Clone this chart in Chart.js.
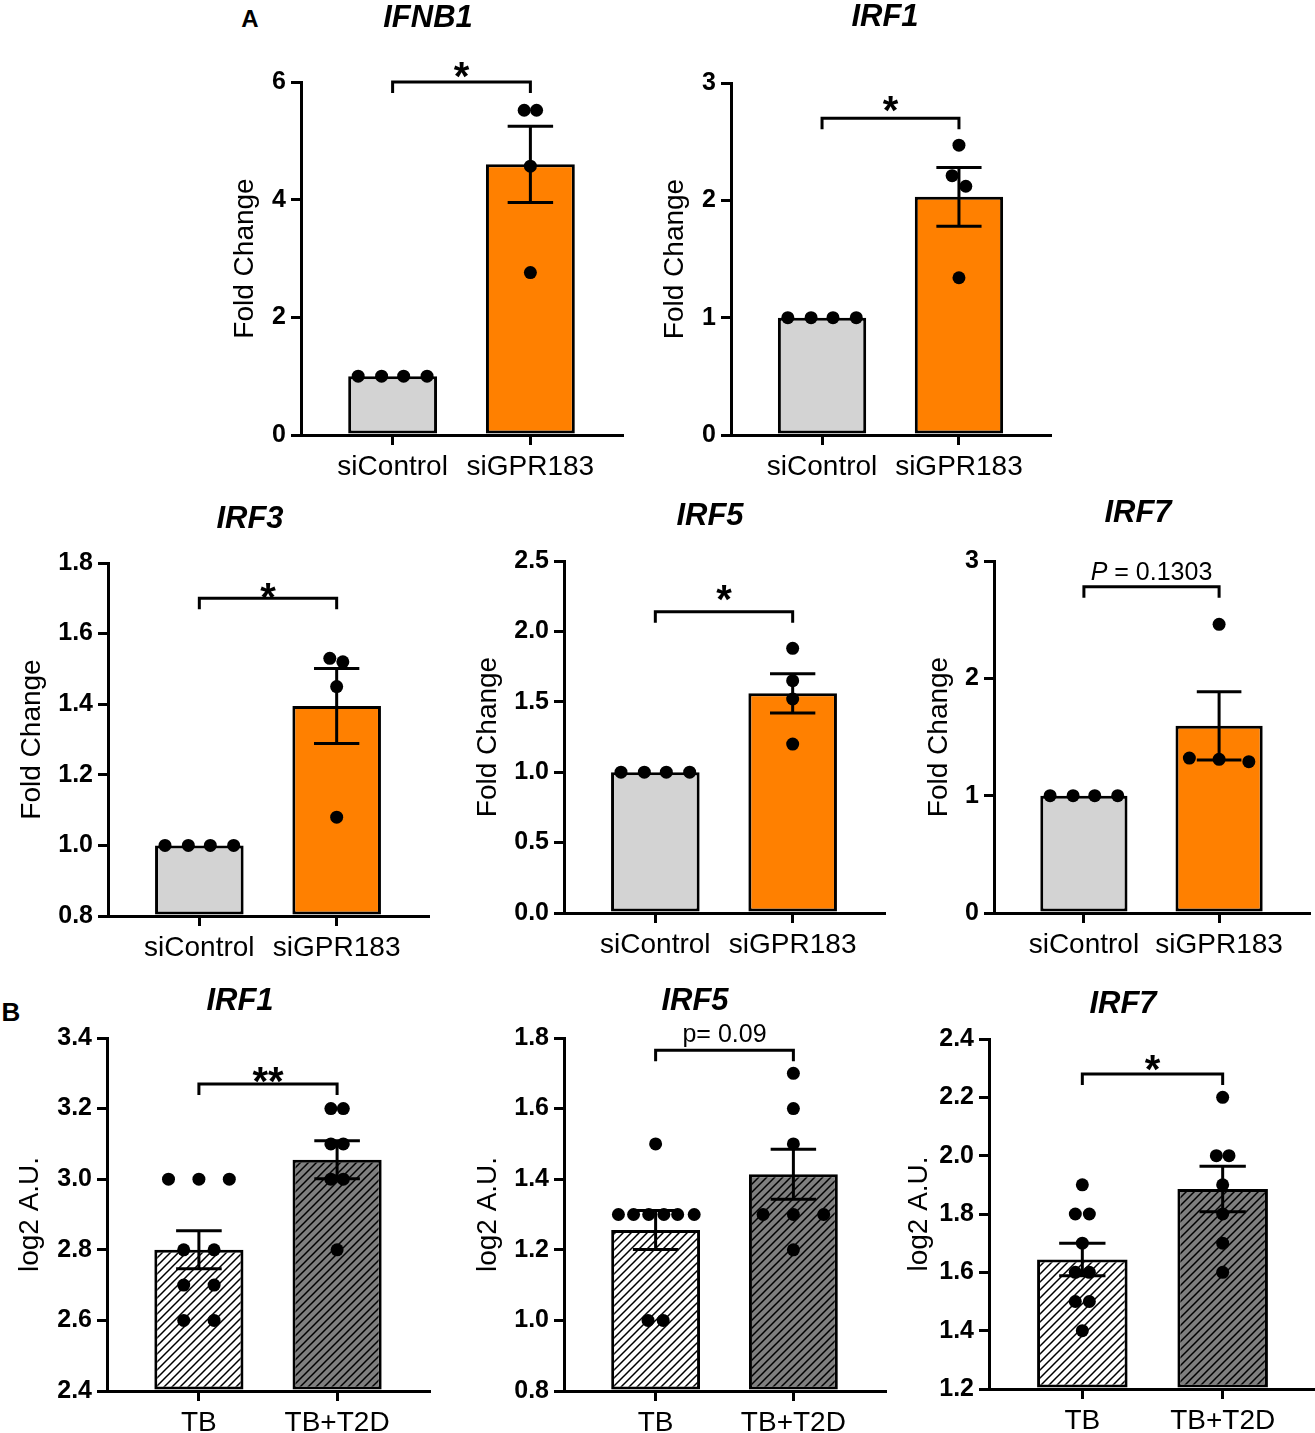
<!DOCTYPE html>
<html>
<head>
<meta charset="utf-8">
<script src="https://cdn.jsdelivr.net/npm/chart.js@4.4.1/dist/chart.umd.min.js"></script>
<style>
  html, body { margin: 0; padding: 0; overflow: hidden; background: #fff; }
  body { width: 1315px; height: 1433px; position: relative; font-family: "Liberation Sans", Arial, sans-serif; }
  canvas { position: absolute; }
  .title { position: absolute; transform: translate(-50%, -50%); font-weight: bold; font-style: italic; font-size: 31px; white-space: nowrap; color: #000; }
  .letter { position: absolute; transform: translate(-50%, -50%); font-weight: bold; color: #000; }
</style>
</head>
<body>
<script>
const FONT = '"Liberation Sans", Arial, sans-serif';

const groupsA = ['siControl', 'siGPR183'];
const groupsB = ['TB', 'TB+T2D'];

// spread of the four control dots along x (category units)
const controlVals = [1, 1, 1, 1];
const controlJitter = [-0.25, -0.08, 0.08, 0.25];

// A - IFNB1
const ifnb1Si = [5.52, 5.52, 4.57, 2.76];
const ifnb1SiJitter = [-0.045, 0.045, 0, 0];
const ifnb1Mean = [1, 4.6];
const ifnb1Sem = [0, 0.65];

// A - IRF1
const irf1Si = [2.47, 2.21, 2.12, 1.34];
const irf1SiJitter = [0, -0.05, 0.05, 0];
const irf1Mean = [1, 2.03];
const irf1Sem = [0, 0.25];

// A - IRF3
const irf3Si = [1.53, 1.52, 1.45, 1.08];
const irf3SiJitter = [-0.05, 0.045, 0, 0];
const irf3Mean = [1, 1.395];
const irf3Sem = [0, 0.106];

// A - IRF5
const irf5Si = [1.88, 1.65, 1.52, 1.20];
const irf5SiJitter = [0, 0, 0, 0];
const irf5Mean = [1, 1.56];
const irf5Sem = [0, 0.14];

// A - IRF7
const irf7Si = [2.46, 1.32, 1.31, 1.29];
const irf7SiJitter = [0, -0.22, 0, 0.22];
const irf7Mean = [1, 1.595];
const irf7Sem = [0, 0.29];

// B - IRF1
const bIrf1Tb = [3.0, 3.0, 3.0, 2.8, 2.8, 2.7, 2.7, 2.6, 2.6];
const bIrf1TbJitter = [-0.22, 0, 0.22, -0.11, 0.11, -0.11, 0.11, -0.11, 0.11];
const bIrf1T2d = [3.2, 3.2, 3.1, 3.1, 3.0, 3.0, 2.8];
const bIrf1T2dJitter = [-0.045, 0.045, -0.045, 0.045, -0.045, 0.045, 0];
const bIrf1Mean = [2.80, 3.055];
const bIrf1Sem = [0.054, 0.054];

// B - IRF5
const bIrf5Tb = [1.5, 1.3, 1.3, 1.3, 1.3, 1.3, 1.3, 1.0, 1.0];
const bIrf5TbJitter = [0, -0.27, -0.16, -0.05, 0.06, 0.16, 0.28, -0.055, 0.055];
const bIrf5T2d = [1.7, 1.6, 1.5, 1.3, 1.3, 1.3, 1.2];
const bIrf5T2dJitter = [0, 0, 0, -0.22, 0, 0.22, 0];
const bIrf5Mean = [1.256, 1.414];
const bIrf5Sem = [0.055, 0.071];

// B - IRF7
const bIrf7Tb = [1.9, 1.8, 1.8, 1.7, 1.6, 1.6, 1.5, 1.5, 1.4];
const bIrf7TbJitter = [0, -0.05, 0.05, 0, -0.05, 0.05, -0.05, 0.05, 0];
const bIrf7T2d = [2.2, 2.0, 2.0, 1.9, 1.8, 1.7, 1.6];
const bIrf7T2dJitter = [0, -0.045, 0.045, 0, 0, 0, 0];
const bIrf7Mean = [1.644, 1.886];
const bIrf7Sem = [0.056, 0.078];

const fillA = ['#d3d3d3', '#ff8000'];
const fillB = ['hatch:#ffffff', 'hatch:#7f7f7f'];

// area = chart area [left, top, right, bottom] in page px
const panels = [
  { title: 'IFNB1', tx: 428, ty: 17, groups: groupsA, g0: controlVals, j0: controlJitter, g1: ifnb1Si, j1: ifnb1SiJitter,
    mean: ifnb1Mean, sem: ifnb1Sem, yMin: 0, yMax: 6, step: 2, dec: 0, yTitle: 'Fold Change',
    sig: [['*', '']], sigY: 6.0, sigGap: 15, area: [301, 82, 622, 435], titleGap: 56, fill: fillA },
  { title: 'IRF1', tx: 885, ty: 16, groups: groupsA, g0: controlVals, j0: controlJitter, g1: irf1Si, j1: irf1SiJitter,
    mean: irf1Mean, sem: irf1Sem, yMin: 0, yMax: 3, step: 1, dec: 0, yTitle: 'Fold Change',
    sig: [['*', '']], sigY: 2.70, sigGap: 18, area: [731, 83, 1050, 435], titleGap: 56, fill: fillA },
  { title: 'IRF3', tx: 250, ty: 518, groups: groupsA, g0: controlVals, j0: controlJitter, g1: irf3Si, j1: irf3SiJitter,
    mean: irf3Mean, sem: irf3Sem, yMin: 0.8, yMax: 1.8, step: 0.2, dec: 1, yTitle: 'Fold Change',
    sig: [['*', '']], sigY: 1.70, sigGap: 11, area: [108, 563, 428, 916], titleGap: 76, fill: fillA },
  { title: 'IRF5', tx: 710, ty: 515, groups: groupsA, g0: controlVals, j0: controlJitter, g1: irf5Si, j1: irf5SiJitter,
    mean: irf5Mean, sem: irf5Sem, yMin: 0, yMax: 2.5, step: 0.5, dec: 1, yTitle: 'Fold Change',
    sig: [['*', '']], sigY: 2.14, sigGap: 22, area: [564, 561, 884, 913], titleGap: 76, fill: fillA },
  { title: 'IRF7', tx: 1138, ty: 512, groups: groupsA, g0: controlVals, j0: controlJitter, g1: irf7Si, j1: irf7SiJitter,
    mean: irf7Mean, sem: irf7Sem, yMin: 0, yMax: 3, step: 1, dec: 0, yTitle: 'Fold Change',
    sig: [['P', 'italic'], [' = 0.1303', '']], sigY: 2.78, sigGap: 16, area: [994, 561, 1309, 913], titleGap: 55, fill: fillA },
  { title: 'IRF1', tx: 240, ty: 1000, groups: groupsB, g0: bIrf1Tb, j0: bIrf1TbJitter, g1: bIrf1T2d, j1: bIrf1T2dJitter,
    mean: bIrf1Mean, sem: bIrf1Sem, yMin: 2.4, yMax: 3.4, step: 0.2, dec: 1, yTitle: 'log2 A.U.',
    sig: [['**', '']], sigY: 3.27, sigGap: 12, area: [107, 1038, 429, 1391], titleGap: 77, fill: fillB },
  { title: 'IRF5', tx: 695, ty: 1000, groups: groupsB, g0: bIrf5Tb, j0: bIrf5TbJitter, g1: bIrf5T2d, j1: bIrf5T2dJitter,
    mean: bIrf5Mean, sem: bIrf5Sem, yMin: 0.8, yMax: 1.8, step: 0.2, dec: 1, yTitle: 'log2 A.U.',
    sig: [['p= 0.09', '']], sigY: 1.765, sigGap: 17, area: [564, 1038, 885, 1391], titleGap: 76, fill: fillB },
  { title: 'IRF7', tx: 1123, ty: 1003, groups: groupsB, g0: bIrf7Tb, j0: bIrf7TbJitter, g1: bIrf7T2d, j1: bIrf7T2dJitter,
    mean: bIrf7Mean, sem: bIrf7Sem, yMin: 1.2, yMax: 2.4, step: 0.2, dec: 1, yTitle: 'log2 A.U.',
    sig: [['*', '']], sigY: 2.28, sigGap: 14, area: [989, 1039, 1316, 1389], titleGap: 70, fill: fillB },
];

const W = 100, PT = 70, PR = 8, H = 70;
const CAP = 0.165;

function addText(cls, text, x, y, size) {
  const d = document.createElement('div');
  d.className = cls;
  d.textContent = text;
  d.style.left = x + 'px';
  d.style.top = y + 'px';
  if (size) d.style.fontSize = size + 'px';
  document.body.appendChild(d);
}

function makeFill(ctx, f) {
  if (!f.startsWith('hatch:')) return f;
  const tile = document.createElement('canvas');
  tile.width = 8; tile.height = 8;
  const g = tile.getContext('2d');
  g.fillStyle = f.slice(6);
  g.fillRect(0, 0, 8, 8);
  g.strokeStyle = '#000';
  g.lineWidth = 1.5;
  g.beginPath();
  g.moveTo(0, 8); g.lineTo(8, 0);
  g.moveTo(-4, 4); g.lineTo(4, -4);
  g.moveTo(4, 12); g.lineTo(12, 4);
  g.stroke();
  return ctx.createPattern(tile, 'repeat');
}

function drawSig(ctx, parts, xm, yc) {
  ctx.fillStyle = '#000';
  ctx.textBaseline = 'alphabetic';
  if (parts[0][0].startsWith('*')) {
    ctx.font = 'bold 40px ' + FONT;
    ctx.textAlign = 'center';
    ctx.fillText(parts[0][0], xm, yc + 0.585 * 40);
    return;
  }
  const size = 25;
  let total = 0;
  parts.forEach(([t, st]) => { ctx.font = st + ' ' + size + 'px ' + FONT; total += ctx.measureText(t).width; });
  let x = xm - total / 2;
  ctx.textAlign = 'left';
  parts.forEach(([t, st]) => {
    ctx.font = st + ' ' + size + 'px ' + FONT;
    ctx.fillText(t, x, yc + 0.36 * size);
    x += ctx.measureText(t).width;
  });
}

addText('letter', 'A', 250, 19, 24);
addText('letter', 'B', 11, 1012, 26);

panels.forEach(p => {
  const [l, t, r, b] = p.area;
  const cw = W + (r - l) + PR, ch = PT + (b - t) + H;
  const canvas = document.createElement('canvas');
  canvas.width = cw; canvas.height = ch;
  canvas.style.left = (l - W) + 'px';
  canvas.style.top = (t - PT) + 'px';
  document.body.appendChild(canvas);
  const ctx = canvas.getContext('2d');

  addText('title', p.title, p.tx, p.ty);

  const marks = {
    id: 'marks',
    afterDatasetsDraw(chart) {
      const { ctx, scales: { x, y } } = chart;
      ctx.save();
      ctx.strokeStyle = '#000';
      ctx.lineWidth = 3;
      p.mean.forEach((m, i) => {
        if (!p.sem[i]) return;
        const xc = x.getPixelForValue(i);
        const yt = y.getPixelForValue(m + p.sem[i]);
        const yb = y.getPixelForValue(m - p.sem[i]);
        const cl = x.getPixelForValue(i - CAP), cr = x.getPixelForValue(i + CAP);
        ctx.beginPath();
        ctx.moveTo(xc, yt); ctx.lineTo(xc, yb);
        ctx.moveTo(cl, yt); ctx.lineTo(cr, yt);
        ctx.moveTo(cl, yb); ctx.lineTo(cr, yb);
        ctx.stroke();
      });
      const by = y.getPixelForValue(p.sigY);
      const x0 = x.getPixelForValue(0), x1 = x.getPixelForValue(1);
      ctx.beginPath();
      ctx.moveTo(x0, by + 11); ctx.lineTo(x0, by); ctx.lineTo(x1, by); ctx.lineTo(x1, by + 11);
      ctx.stroke();
      drawSig(ctx, p.sig, (x0 + x1) / 2, by - p.sigGap);
      ctx.restore();
    }
  };

  new Chart(canvas, {
    type: 'bar',
    data: {
      datasets: [
        {
          data: p.mean.map((v, i) => ({ x: i, y: v })),
          backgroundColor: p.fill.map(f => makeFill(ctx, f)),
          borderColor: '#000',
          borderWidth: 3,
          borderSkipped: false,
          base: p.yMin,
          categoryPercentage: 1,
          barPercentage: 0.645,
          order: 2
        },
        {
          type: 'scatter',
          data: p.g0.map((v, k) => ({ x: p.j0[k], y: v }))
            .concat(p.g1.map((v, k) => ({ x: 1 + p.j1[k], y: v }))),
          pointRadius: 6.5,
          pointBackgroundColor: '#000',
          pointBorderWidth: 0,
          clip: false,
          order: 1
        }
      ]
    },
    options: {
      responsive: false,
      animation: false,
      layout: { padding: { top: PT, right: PR, left: 0, bottom: 0 } },
      plugins: { legend: { display: false }, tooltip: { enabled: false } },
      scales: {
        x: {
          type: 'linear', min: -0.665, max: 1.665, offset: false,
          afterBuildTicks: s => { s.ticks = [{ value: 0 }, { value: 1 }]; },
          afterFit: s => { s.height = H; },
          ticks: {
            callback: v => p.groups[v], color: '#000', padding: 5, maxRotation: 0, autoSkip: false,
            font: { family: FONT, size: 28 }
          },
          grid: { drawOnChartArea: false, drawTicks: true, tickLength: 10, lineWidth: 3, color: '#000', offset: false },
          border: { display: true, color: '#000', width: 3 }
        },
        y: {
          type: 'linear', min: p.yMin, max: p.yMax,
          afterFit: s => { s.width = W; },
          ticks: {
            stepSize: p.step, callback: v => v.toFixed(p.dec), color: '#000', padding: 5,
            font: { family: FONT, size: 25, weight: 'bold' }
          },
          grid: { drawOnChartArea: false, drawTicks: true, tickLength: 10, lineWidth: 3, color: '#000' },
          border: { display: true, color: '#000', width: 3 },
          title: {
            display: true, text: p.yTitle, color: '#000',
            font: { family: FONT, size: 28 },
            padding: { top: W - p.titleGap - 16.8, bottom: 0 }
          }
        }
      }
    },
    plugins: [marks]
  });
});
</script>
</body>
</html>
